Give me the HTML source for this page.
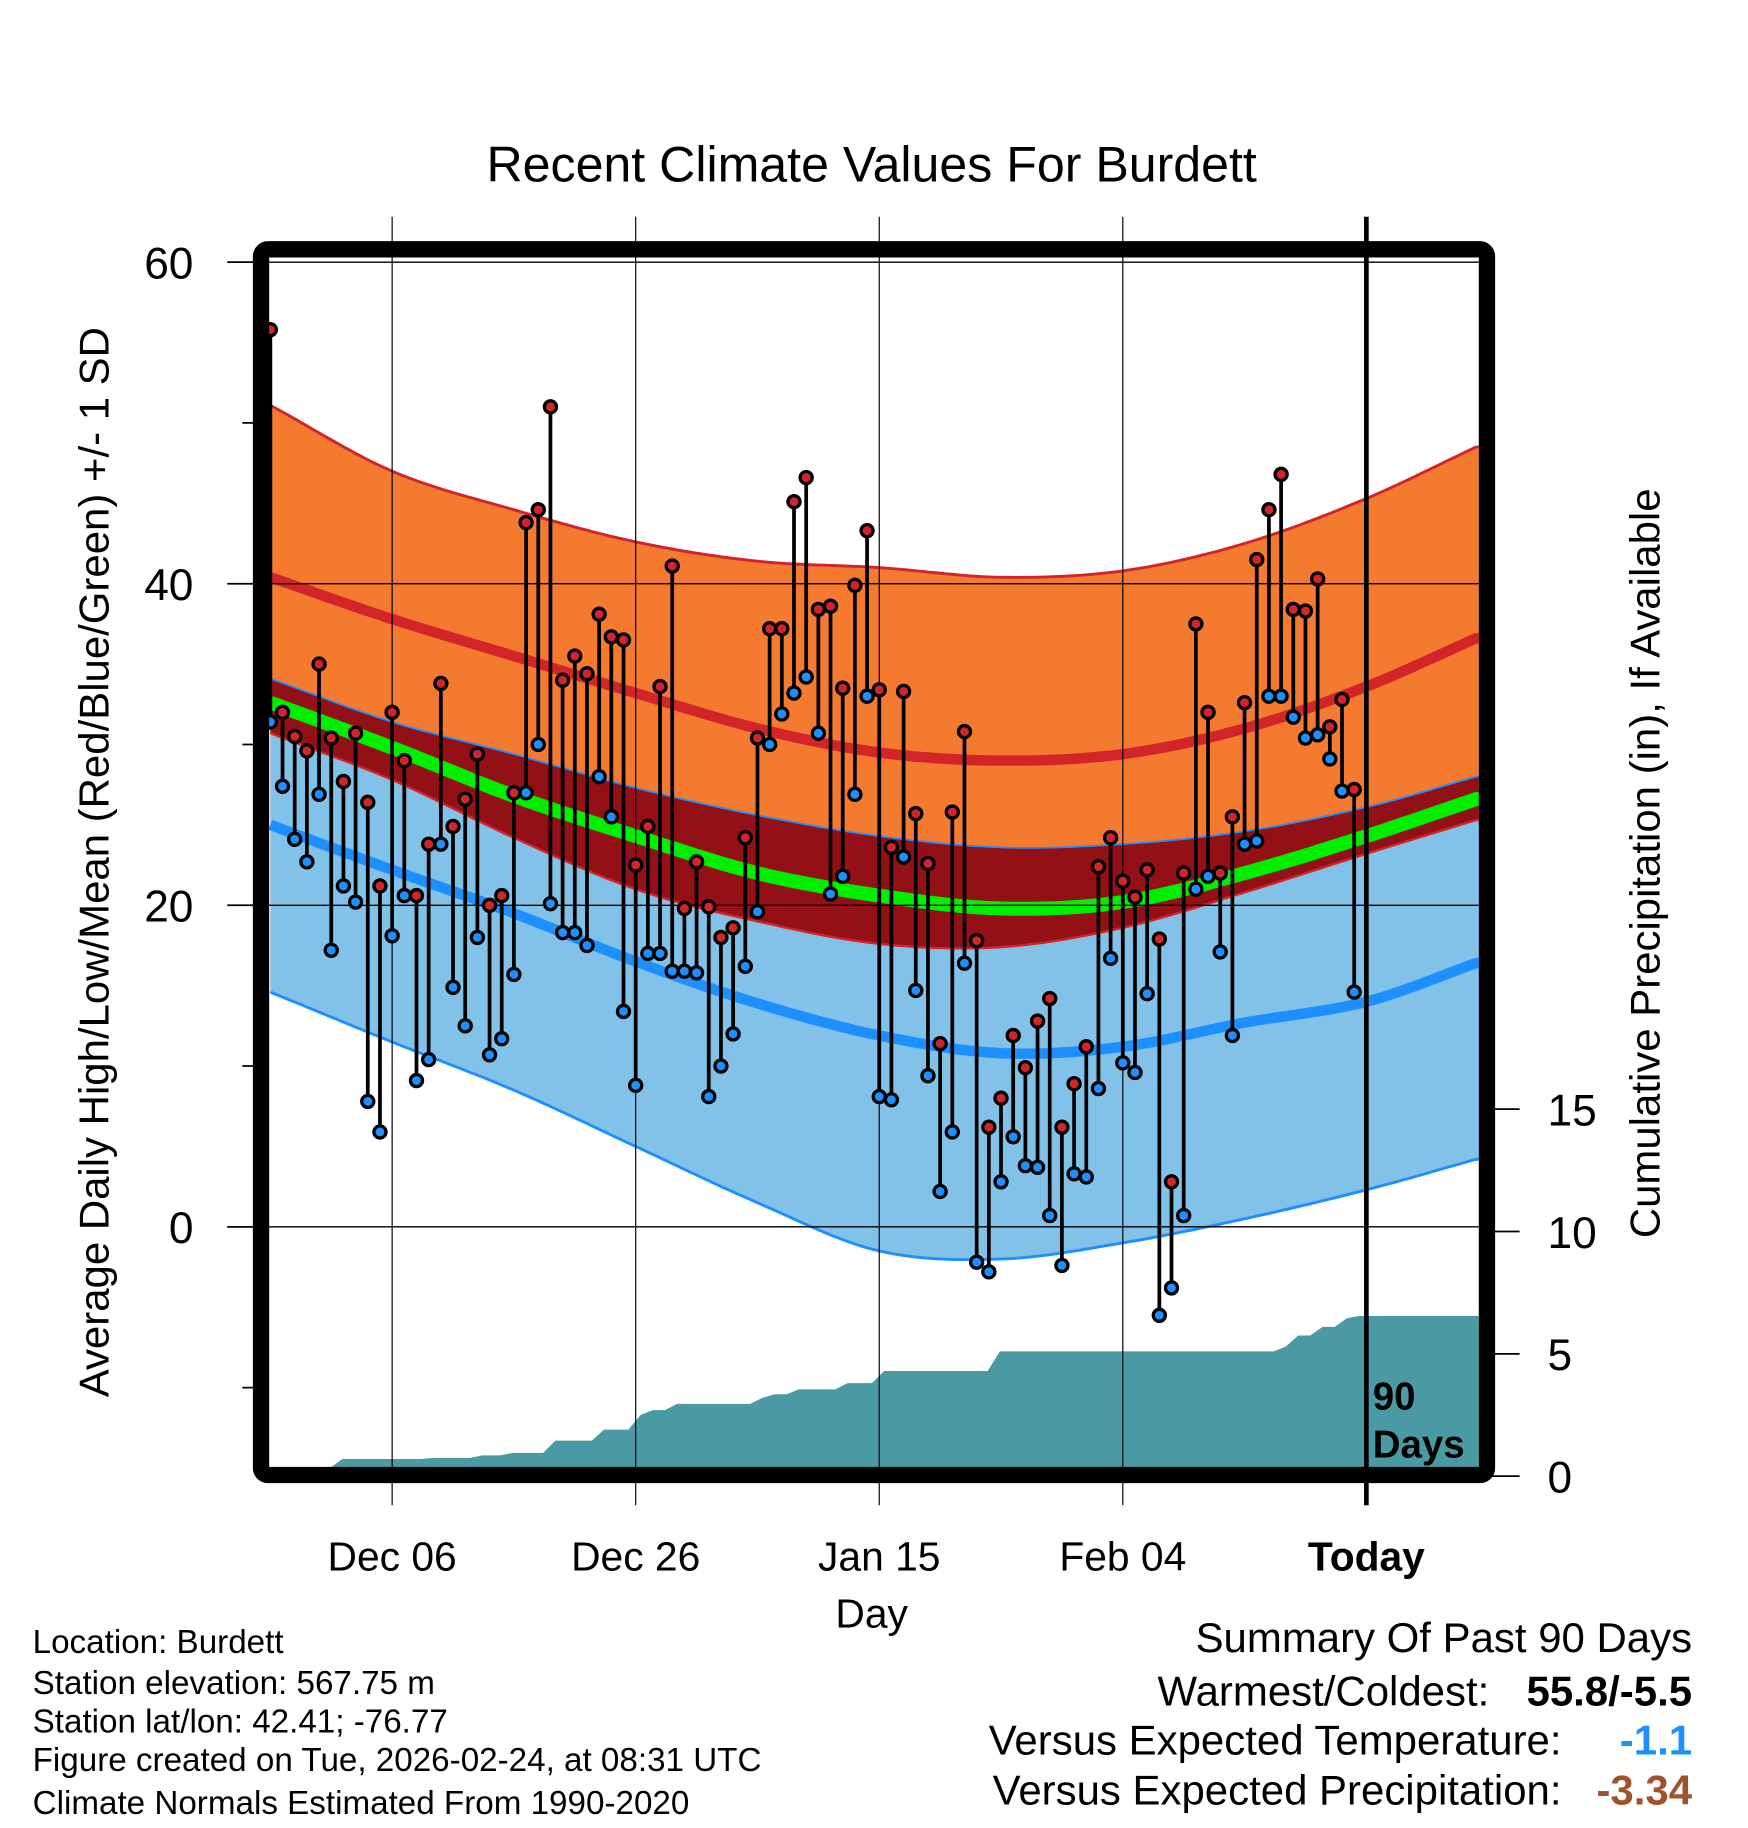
<!DOCTYPE html>
<html><head><meta charset="utf-8"><style>
html,body{margin:0;padding:0;background:#fff;}
svg{display:block;font-family:"Liberation Sans",sans-serif;}
</style></head><body>
<svg id="chart" width="1748" height="1828" viewBox="0 0 1500 1569" preserveAspectRatio="none" xmlns="http://www.w3.org/2000/svg">
<text x="748" y="156" font-size="43" text-anchor="middle">Recent Climate Values For Burdett</text>
<g id="bands"></g><g id="precip"></g><g id="grid"></g><g id="stems"></g><g id="frame"></g><g id="axes"></g>
<text transform="translate(93,740) rotate(-90)" font-size="36" text-anchor="middle">Average Daily High/Low/Mean (Red/Blue/Green) +/- 1 SD</text>
<text transform="translate(1424,741) rotate(-90)" font-size="36" text-anchor="middle">Cumulative Precipitation (in), If Available</text>
<text x="748" y="1397" font-size="35" text-anchor="middle">Day</text>
<text x="1178" y="1210" font-size="33" font-weight="bold">90</text>
<text x="1178" y="1251" font-size="33" font-weight="bold">Days</text>
<g font-size="28.5">
<text x="28" y="1419">Location: Burdett</text>
<text x="28" y="1454">Station elevation: 567.75 m</text>
<text x="28" y="1487">Station lat/lon: 42.41; -76.77</text>
<text x="28" y="1520">Figure created on Tue, 2026-02-24, at 08:31 UTC</text>
<text x="28" y="1557">Climate Normals Estimated From 1990-2020</text>
</g>
<g font-size="36">
<text x="1452" y="1418" text-anchor="end">Summary Of Past 90 Days</text>
<text x="1278" y="1464" text-anchor="end">Warmest/Coldest:</text>
<text x="1452" y="1464" text-anchor="end" font-weight="bold">55.8/-5.5</text>
<text x="1340" y="1506" text-anchor="end">Versus Expected Temperature:</text>
<text x="1452" y="1506" text-anchor="end" font-weight="bold" fill="#1e8fff">-1.1</text>
<text x="1340" y="1549" text-anchor="end">Versus Expected Precipitation:</text>
<text x="1452" y="1549" text-anchor="end" font-weight="bold" fill="#a0522d">-3.34</text>
</g>
</svg>
<script>
const highs=[55.8,32.0,30.5,29.6,35.0,30.4,27.7,30.7,26.4,21.2,32.0,29.0,20.6,23.8,33.8,24.9,26.6,29.4,20.0,20.6,27.0,43.8,44.6,51.0,34.0,35.5,34.4,38.1,36.7,36.5,22.5,24.9,33.6,41.1,19.8,22.7,19.9,18.0,18.6,24.2,30.4,37.2,37.2,45.1,46.6,38.4,38.6,33.5,39.9,43.3,33.4,23.6,33.3,25.7,22.6,11.4,25.8,30.8,17.8,6.2,8.0,11.9,9.9,12.8,14.2,6.2,8.9,11.2,22.4,24.2,21.5,20.5,22.2,17.9,2.8,22.0,37.5,32.0,22.0,25.5,32.6,41.5,44.6,46.8,38.4,38.3,40.3,31.1,32.8,27.2];
const lows=[31.4,27.4,24.1,22.7,26.9,17.2,21.2,20.2,7.8,5.9,18.1,20.6,9.1,10.4,23.8,14.9,12.5,18.0,10.7,11.7,15.7,27.0,30.0,20.1,18.3,18.3,17.5,28.0,25.5,13.4,8.8,17.0,17.0,15.9,15.9,15.8,8.1,10.0,12.0,16.2,19.6,30.0,31.9,33.2,34.2,30.7,20.7,21.8,26.9,33.0,8.1,7.9,23.0,14.7,9.4,2.2,5.9,16.4,-2.2,-2.8,2.8,5.6,3.8,3.7,0.7,-2.4,3.3,3.1,8.6,16.7,10.2,9.6,14.5,-5.5,-3.8,0.7,21.0,21.8,17.1,11.9,23.8,24.0,33.0,33.0,31.7,30.4,30.6,29.1,27.1,14.6];
const normDays=[0,10,20,30,40,50,60,70,80,90,99];
const highPlusSD=[51.1,47.0,44.6,42.6,41.4,41.0,40.4,40.8,42.5,45.3,48.5];
const meanHigh=[40.4,37.8,35.5,33.2,31.0,29.5,29.0,29.4,31.0,33.6,36.6];
const highMinusSD=[30.7,27.8,24.2,21.0,19.0,17.6,17.4,18.6,20.8,23.2,25.3];
const lowPlusSD=[34.1,31.4,29.4,27.3,25.6,24.3,23.6,23.8,24.6,26.1,28.0];
const meanTemp=[32.6,29.8,26.8,24.3,22.0,20.6,19.8,20.2,22.0,24.3,26.6];
const meanLow=[25.0,22.2,19.5,16.5,13.9,11.9,10.8,11.2,12.7,14.0,16.4];
const lowMinusSD=[14.6,11.5,8.5,5.0,1.5,-1.5,-2.0,-1.0,0.5,2.3,4.2];
const precipDays=[5.5,13,17,19.5,23,27,30,31,33,40,41,43,47,50,59.5,83,84,86,88,89];
const precipCum=[0.7,0.75,0.85,0.95,1.45,1.9,2.5,2.7,2.95,3.2,3.35,3.55,3.8,4.3,5.1,5.3,5.75,6.1,6.45,6.55];
const xTickDays=[10,30,50,70,90];
const xTickLabels=["Dec 06","Dec 26","Jan 15","Feb 04","Today"];
const yTicks=[0,20,40,60];
const yMinor=[-10,10,30,50];
const pTicks=[0,5,10,15];

const NS="http://www.w3.org/2000/svg";
const X0=232,DX=10.45,Y0=1053,DY=13.8;
const PL=229,PR=1269,PT=221,PB=1260;
function x(d){return X0+d*DX;}
function y(t){return Y0-t*DY;}
function yp(p){return 1267-p*21;}
function mk(tag,attrs,parent){const e=document.createElementNS(NS,tag);for(const k in attrs)e.setAttribute(k,attrs[k]);parent.appendChild(e);return e;}
function interp(ds,vs,d){const n=ds.length;let i=0;while(i<n-2&&d>ds[i+1])i++;
const h=ds[i+1]-ds[i];const t=Math.max(0,Math.min(1,(d-ds[i])/h));
const m0=i>0?(vs[i+1]-vs[i-1])/(ds[i+1]-ds[i-1]):(vs[1]-vs[0])/(ds[1]-ds[0]);
const m1=i<n-2?(vs[i+2]-vs[i])/(ds[i+2]-ds[i]):(vs[n-1]-vs[n-2])/(ds[n-1]-ds[n-2]);
const t2=t*t,t3=t2*t;return (2*t3-3*t2+1)*vs[i]+(t3-2*t2+t)*h*m0+(-2*t3+3*t2)*vs[i+1]+(t3-t2)*h*m1;}
const dEnd=(PR-X0)/DX;
function samp(arr){const pts=[];for(let d=0;d<=dEnd;d+=0.5)pts.push([x(d),y(interp(normDays,arr,d))]);pts.push([PR,y(interp(normDays,arr,dEnd))]);return pts;}
function band(a,b,fill,name){const p1=samp(a),p2=samp(b).reverse();const d="M"+p1.concat(p2).map(p=>p[0].toFixed(1)+","+p[1].toFixed(1)).join("L")+"Z";const e=mk("path",{d:d,fill:fill},document.getElementById("bands"));

}
function line(a,stroke,w,name){const d="M"+samp(a).map(p=>p[0].toFixed(1)+","+p[1].toFixed(1)).join("L");const e=mk("path",{d:d,fill:"none",stroke:stroke,"stroke-width":w},document.getElementById("bands"));

}
band(highPlusSD,highMinusSD,"#f47a30","high-sd-band");
band(lowPlusSD,lowMinusSD,"#83c2e8","low-sd-band");
band(lowPlusSD,highMinusSD,"#921016","overlap-band");
line(highPlusSD,"#d2252a",2.5,"high-plus-sd-line");
line(highMinusSD,"#d2252a",2,"high-minus-sd-line");
line(lowPlusSD,"#1e8fff",1.5,"low-plus-sd-line");
line(lowMinusSD,"#1e8fff",2.5,"low-minus-sd-line");
line(meanHigh,"#d2252a",9,"mean-high-line");
line(meanLow,"#1e8fff",9,"mean-low-line");
line(meanTemp,"#00ee00",12,"mean-temp-line");

// precipitation (step-like cumulative)
(function(){let prev=0;let d="M"+PL+","+PB+"L"+PL+","+yp(0);for(let i=0;i<precipDays.length;i++){const dd=precipDays[i];d+="L"+x(dd-0.6).toFixed(1)+","+Math.min(yp(prev),PB).toFixed(1);d+="L"+x(dd+0.4).toFixed(1)+","+Math.min(yp(precipCum[i]),PB).toFixed(1);prev=precipCum[i];}d+="L"+PR+","+yp(prev)+"L"+PR+","+PB+"Z";
const e=mk("path",{d:d,fill:"#4a9aa3"},document.getElementById("precip"));

})();

// grid
const g=document.getElementById("grid");
yTicks.forEach(t=>{const e=mk("line",{x1:PL,x2:PR,y1:y(t),y2:y(t),stroke:"#000","stroke-width":1.2},g);

});
xTickDays.forEach((d,i)=>{const last=i===xTickDays.length-1;const e=mk("line",{x1:x(d),x2:x(d),y1:186,y2:1292,stroke:"#000","stroke-width":last?4:1},g);

});

// stems and points
const s=document.getElementById("stems");
highs.forEach((h,i)=>{const e=mk("line",{x1:x(i),x2:x(i),y1:y(h),y2:y(lows[i]),stroke:"#000","stroke-width":3.2},s);

});
lows.forEach((l,i)=>{const e=mk("circle",{cx:x(i),cy:y(l),r:5.2,fill:"#1e8fff",stroke:"#000","stroke-width":2.8},s);

});
highs.forEach((h,i)=>{const e=mk("circle",{cx:x(i),cy:y(h),r:5.2,fill:"#d2252a",stroke:"#000","stroke-width":2.8},s);

});

// frame
(function(){const e=mk("rect",{x:224,y:214,width:1052,height:1052,rx:6,fill:"none",stroke:"#000","stroke-width":14},document.getElementById("frame"));

})();

// axes
const a=document.getElementById("axes");
yTicks.forEach(t=>{const e=mk("line",{x1:195,x2:222,y1:y(t),y2:y(t),stroke:"#000","stroke-width":1.5},a);


const tx=mk("text",{x:166,y:y(t)+14,"font-size":38,"text-anchor":"end"},a);tx.textContent=t;

});
yMinor.forEach(t=>{const e=mk("line",{x1:208,x2:222,y1:y(t),y2:y(t),stroke:"#000","stroke-width":1.5},a);

});
pTicks.forEach(p=>{const e=mk("line",{x1:1280,x2:1304,y1:yp(p),y2:yp(p),stroke:"#000","stroke-width":1.5},a);


const tx=mk("text",{x:1328,y:yp(p)+14,"font-size":38},a);tx.textContent=p;

});
xTickDays.forEach((d,i)=>{const tx=mk("text",{x:x(d),y:1348,"font-size":35,"text-anchor":"middle"},a);tx.textContent=xTickLabels[i];
if(i===xTickDays.length-1)tx.setAttribute("font-weight","bold");

});
</script>
</body></html>
